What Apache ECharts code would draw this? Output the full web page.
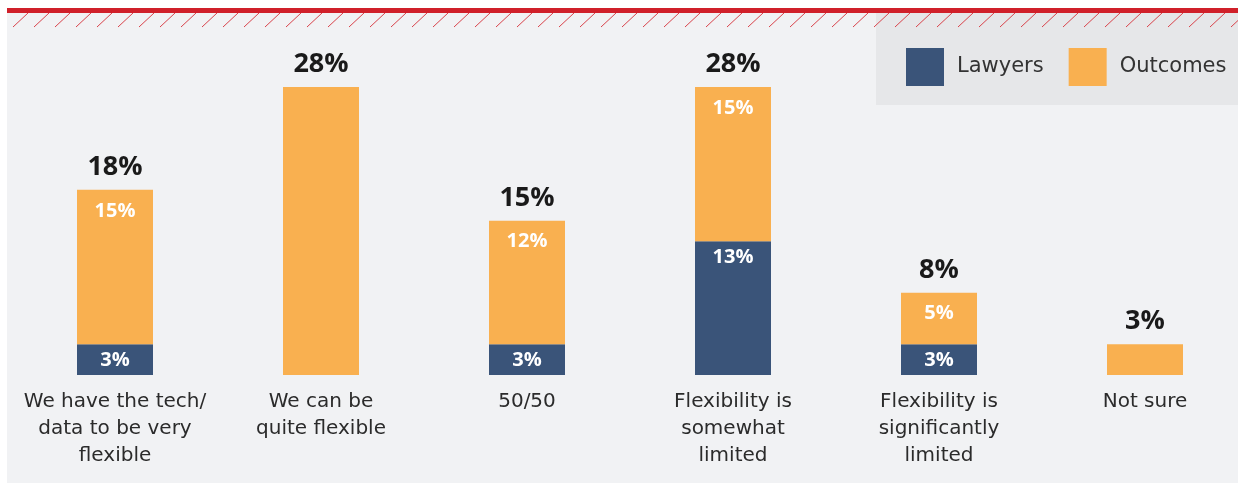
<!DOCTYPE html>
<html lang="en">
<head>
  <meta charset="UTF-8">
  <title>Flexibility</title>
  <script src="https://cdn.jsdelivr.net/npm/echarts@6/dist/echarts.min.js"></script>
  <style>
    body { margin: 0; background: #fff; }
  </style>
</head>
<body>
  <div id="app" style="width: 1238px; height: 485px;"></div>
  <script>
    var categories = ['We have the tech/\ndata to be very\nflexible', 'We can be\nquite flexible', '50/50',
      'Flexibility is\nsomewhat\nlimited', 'Flexibility is\nsignificantly\nlimited', 'Not sure']
    var lawyers = [3, 0, 3, 13, 3, 0]
    var outcomes = [15, 28, 12, 15, 5, 3]
    var totals = [18, 28, 15, 28, 8, 3]

    var font = 'DejaVu Sans'
    var numFont = 'Open Sans'
    var mCharts = echarts.init(document.querySelector('#app'))

    // hatch lines under the red band
    var hatch = []
    for (var x = 13; x < 1238; x += 21) {
      hatch.push({
        type: 'line',
        shape: { x1: x, y1: 27, x2: x + 15, y2: 13 },
        style: { stroke: '#d9434b', lineWidth: 1 },
        z: -5
      })
    }

    var option = {
      backgroundColor: '#fff',
      graphic: [
        { type: 'rect', shape: { x: 7, y: 13, width: 1231, height: 470 }, style: { fill: '#f1f2f4' }, z: -10 },
        { type: 'rect', shape: { x: 876, y: 13, width: 362, height: 92 }, style: { fill: '#e6e7e9' }, z: -8 },
        { type: 'rect', shape: { x: 7, y: 8, width: 1231, height: 5 }, style: { fill: '#d0202a' }, z: -4 }
      ].concat(hatch),
      legend: {
        left: 901,
        top: 43,
        itemWidth: 38,
        itemHeight: 38,
        itemGap: 25,
        icon: 'rect',
        data: ['Lawyers', 'Outcomes'],
        textStyle: { fontFamily: font, fontSize: 21, color: '#333', padding: [0, 0, 0, 8] }
      },
      grid: { left: 12, width: 1236, top: 87, bottom: 110, outerBoundsMode: 'none', containLabel: false },
      xAxis: {
        type: 'category',
        data: categories,
        axisLine: { show: false },
        axisTick: { show: false },
        axisLabel: {
          interval: 0,
          margin: 13,
          fontFamily: font,
          fontSize: 20,
          lineHeight: 27,
          color: '#2b2b2b'
        }
      },
      yAxis: {
        type: 'value',
        min: 0,
        max: 28,
        show: false,
        splitLine: { show: false }
      },
      series: [
        {
          name: 'Lawyers',
          type: 'bar',
          stack: 'a',
          barWidth: 76,
          data: lawyers,
          itemStyle: { color: '#3a5479' },
          label: {
            show: true,
            position: 'insideTop',
            distance: 6,
            fontFamily: numFont,
            fontWeight: 'bold',
            fontSize: 20,
            color: '#fff',
            formatter: function (p) { return p.value ? p.value + '%' : '' }
          }
        },
        {
          name: 'Outcomes',
          type: 'bar',
          stack: 'a',
          data: outcomes,
          itemStyle: { color: '#f9b050' },
          label: {
            show: true,
            position: 'insideTop',
            distance: 11,
            fontFamily: numFont,
            fontWeight: 'bold',
            fontSize: 20,
            color: '#fff',
            formatter: function (p) {
              // single-segment bars carry no inner label
              return lawyers[p.dataIndex] ? p.value + '%' : ''
            }
          }
        },
        {
          name: 'Total',
          type: 'scatter',
          data: totals,
          symbolSize: 0,
          silent: true,
          itemStyle: { opacity: 1 },
          label: {
            show: true,
            position: 'top',
            distance: 9,
            fontFamily: numFont,
            fontWeight: 'bold',
            fontSize: 27,
            color: '#1a1a1a',
            opacity: 1,
            formatter: '{c}%'
          }
        }
      ]
    }
    mCharts.setOption(option)
  </script>
</body>
</html>
